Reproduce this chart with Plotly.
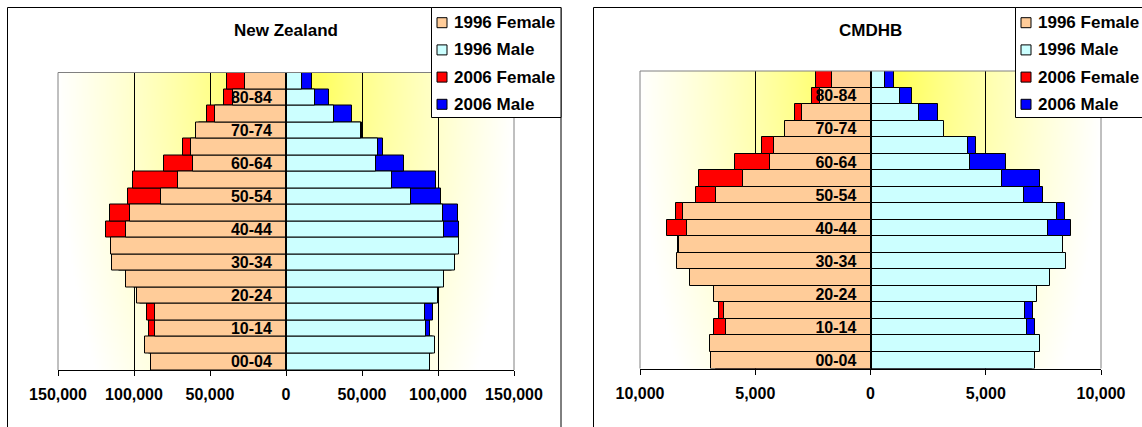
import base64
import struct
import zlib

import numpy as np
import plotly.graph_objects as go

# ---------------- data ----------------
age_groups = ["00-04", "05-09", "10-14", "15-19", "20-24", "25-29", "30-34", "35-39",
              "40-44", "45-49", "50-54", "55-59", "60-64", "65-69", "70-74", "75-79",
              "80-84", "85+"]
age_tick_labels = age_groups[::2]

series_names = ["1996 Female", "1996 Male", "2006 Female", "2006 Male"]

nz_female_1996 = [89000, 92500, 86200, 86200, 97800, 105500, 114300, 115100, 105500, 102900,
                  82400, 71000, 61000, 62500, 59200, 47000, 35000, 27300]
nz_male_1996 = [94700, 98000, 92300, 91200, 100000, 104200, 111000, 113600, 104000, 103300,
                82000, 69800, 59400, 60300, 49200, 31900, 19400, 10300]
nz_female_2006 = [86500, 90000, 90100, 91700, 96000, 100000, 110000, 113000, 118400, 115800,
                  104200, 100500, 80000, 68000, 57000, 51700, 41100, 38800]
nz_male_2006 = [93000, 96500, 95000, 96700, 98500, 102000, 109000, 112000, 113800, 112900,
                101900, 99000, 77500, 64000, 50000, 43200, 28600, 17400]

cm_female_1996 = [6910, 6980, 6270, 6340, 6790, 7810, 8380, 8300, 7970, 8150,
                  6720, 5550, 4340, 4180, 3730, 2990, 2200, 1680]
cm_male_1996 = [7120, 7350, 6770, 6710, 7210, 7800, 8480, 8370, 7690, 8070,
                6660, 5710, 4330, 4210, 3200, 2100, 1300, 630]
cm_female_2006 = [6700, 6800, 6800, 6580, 6600, 7600, 8200, 8360, 8840, 8450,
                  7590, 7430, 5880, 4700, 3600, 3290, 2550, 2370]
cm_male_2006 = [7000, 7200, 7120, 7060, 7100, 7600, 8300, 8200, 8700, 8430,
                7470, 7340, 5870, 4560, 3100, 2930, 1790, 1040]

nz_tick_values = [-150000, -100000, -50000, 0, 50000, 100000, 150000]
cm_tick_values = [-10000, -5000, 0, 5000, 10000]

# ---------------- styles ----------------
W, H = 1142, 427
FONT = "Liberation Sans, Arial, sans-serif"
series_colors = {"1996 Female": "#FFCC99", "1996 Male": "#CCFFFF",
                 "2006 Female": "#FF0000", "2006 Male": "#0000FF"}


def px(x):
    return x / W


def py(y):
    return 1 - y / H


def png_data_uri(rgb):
    h, w, _ = rgb.shape
    raw = b"".join(b"\x00" + rgb[i].tobytes() for i in range(h))

    def chunk(tag, data):
        c = struct.pack(">I", len(data)) + tag + data
        return c + struct.pack(">I", zlib.crc32(tag + data) & 0xFFFFFFFF)

    png = (b"\x89PNG\r\n\x1a\n"
           + chunk(b"IHDR", struct.pack(">IIBBBBB", w, h, 8, 2, 0, 0, 0))
           + chunk(b"IDAT", zlib.compress(raw, 9))
           + chunk(b"IEND", b""))
    return "data:image/png;base64," + base64.b64encode(png).decode()


def gradient_image(w=230, h=150):
    u = (np.arange(w) + 0.5) / w * 2 - 1
    v = (np.arange(h) + 0.5) / h
    U, V = np.meshgrid(u, v)
    t = np.clip(np.sqrt(U ** 2 + (V / 1.8) ** 2), 0, 1)
    b = 255 * (0.12 + 0.88 * t ** 0.65)
    img = np.zeros((h, w, 3), dtype=np.uint8)
    img[..., 0] = 255
    img[..., 1] = 255
    img[..., 2] = np.clip(b, 0, 255).astype(np.uint8)
    return png_data_uri(img)


bg_uri = gradient_image()

panels = [
    dict(title="New Zealand", xa="x", ya="y",
         values={"1996 Female": nz_female_1996, "1996 Male": nz_male_1996,
                 "2006 Female": nz_female_2006, "2006 Male": nz_male_2006},
         ticks=nz_tick_values, left=58, right=514, top=72.5, bottom=370,
         frame=(7.5, 561), legend_left=431.5, legend_right=561),
    dict(title="CMDHB", xa="x2", ya="y2",
         values={"1996 Female": cm_female_1996, "1996 Male": cm_male_1996,
                 "2006 Female": cm_female_2006, "2006 Male": cm_male_2006},
         ticks=cm_tick_values, left=640, right=1101, top=71, bottom=368.5,
         frame=(593.5, 1200), legend_left=1015.5, legend_right=1200),
]

fig = go.Figure()
shapes = []
annotations = []
images = []
layout_axes = {}

draw_order = ["2006 Female", "2006 Male", "1996 Female", "1996 Male"]

for p in panels:
    for name in draw_order:
        vals = p["values"][name]
        sign = -1 if "Female" in name else 1
        fig.add_trace(go.Bar(
            y=age_groups, x=[sign * v for v in vals], orientation="h", name=name,
            marker=dict(color=series_colors[name], line=dict(color="black", width=1)),
            xaxis=p["xa"], yaxis=p["ya"], showlegend=False,
            customdata=vals, hovertemplate="%{y}: %{customdata:,}<extra>" + name + "</extra>",
        ))

    rng = max(abs(v) for v in p["ticks"])
    zero_px = (p["left"] + p["right"]) / 2
    xkey = "xaxis" if p["xa"] == "x" else "xaxis" + p["xa"][1:]
    ykey = "yaxis" if p["ya"] == "y" else "yaxis" + p["ya"][1:]
    layout_axes[xkey] = dict(
        domain=[px(p["left"]), px(p["right"])], range=[-rng, rng], anchor=p["ya"],
        tickmode="array", tickvals=p["ticks"], ticktext=[f"{abs(v):,}" for v in p["ticks"]],
        ticks="outside", ticklen=5, tickcolor="black", showline=True, linecolor="black",
        showgrid=True, gridcolor="black", gridwidth=1, zeroline=False, automargin=False,
        tickfont=dict(family=FONT, size=16, color="black", weight="bold"),
        ticklabelstandoff=5, fixedrange=True,
    )
    layout_axes[ykey] = dict(
        domain=[py(p["bottom"]), py(p["top"])], type="category",
        categoryorder="array", categoryarray=age_groups, range=[-0.5, len(age_groups) - 0.5],
        anchor="free", position=px(zero_px), showline=True, linecolor="black", linewidth=1,
        ticks="", tickmode="array", tickvals=age_tick_labels, showgrid=False, zeroline=False,
        automargin=False,
        tickfont=dict(family=FONT, size=16, color="black", weight="bold"),
        ticklabelstandoff=11, fixedrange=True,
    )

    images.append(dict(source=bg_uri, xref="paper", yref="paper", x=px(p["left"]), y=py(p["top"]),
                       sizex=px(p["right"]) - px(p["left"]), sizey=py(p["top"]) - py(p["bottom"]),
                       sizing="stretch", xanchor="left", yanchor="top", layer="below"))

    xd, yd = p["xa"] + " domain", p["ya"] + " domain"
    for (x0, y0, x1, y1) in [(0, 0, 0, 1), (0, 1, 1, 1), (1, 0, 1, 1)]:
        shapes.append(dict(type="line", xref=xd, yref=yd, x0=x0, y0=y0, x1=x1, y1=y1,
                           line=dict(color="#808080", width=1), layer="above"))

    # chart frame
    shapes.append(dict(type="rect", xref="paper", yref="paper", x0=px(p["frame"][0]), x1=px(p["frame"][1]),
                       y0=py(7.5), y1=-0.2, line=dict(color="black", width=1),
                       fillcolor="rgba(0,0,0,0)", layer="above"))
    # legend box
    lx = p["legend_left"]
    shapes.append(dict(type="rect", xref="paper", yref="paper", x0=px(lx), x1=px(p["legend_right"]),
                       y0=py(7.5), y1=py(117.5), line=dict(color="black", width=1),
                       fillcolor="white", layer="above"))
    for i, name in enumerate(series_names):
        yc = 22.7 + i * 27.2
        shapes.append(dict(type="rect", xref="paper", yref="paper", x0=px(lx + 5.5), x1=px(lx + 15.5),
                           y0=py(yc - 5), y1=py(yc + 5), line=dict(color="black", width=1),
                           fillcolor=series_colors[name], layer="above"))
        annotations.append(dict(text=name, xref="paper", yref="paper", x=px(lx + 20), y=py(yc),
                                xanchor="left", yanchor="middle", showarrow=False,
                                font=dict(family=FONT, size=17, color="black", weight="bold")))
    annotations.append(dict(text=p["title"], xref="paper", yref="paper", x=px(zero_px), y=py(30.5),
                            xanchor="center", yanchor="middle", showarrow=False,
                            font=dict(family=FONT, size=17, color="black", weight="bold")))

fig.update_layout(
    width=W, height=H, margin=dict(l=0, r=0, t=0, b=0, pad=0, autoexpand=False), autosize=False,
    paper_bgcolor="white", plot_bgcolor="rgba(0,0,0,0)",
    barmode="overlay", bargap=0,
    showlegend=False, shapes=shapes, annotations=annotations, images=images,
    font=dict(family=FONT, color="black"),
    **layout_axes,
)

fig.write_html("out.html", config={"displayModeBar": False},
               post_script="document.body.style.margin='0';document.body.style.overflow='hidden';")
